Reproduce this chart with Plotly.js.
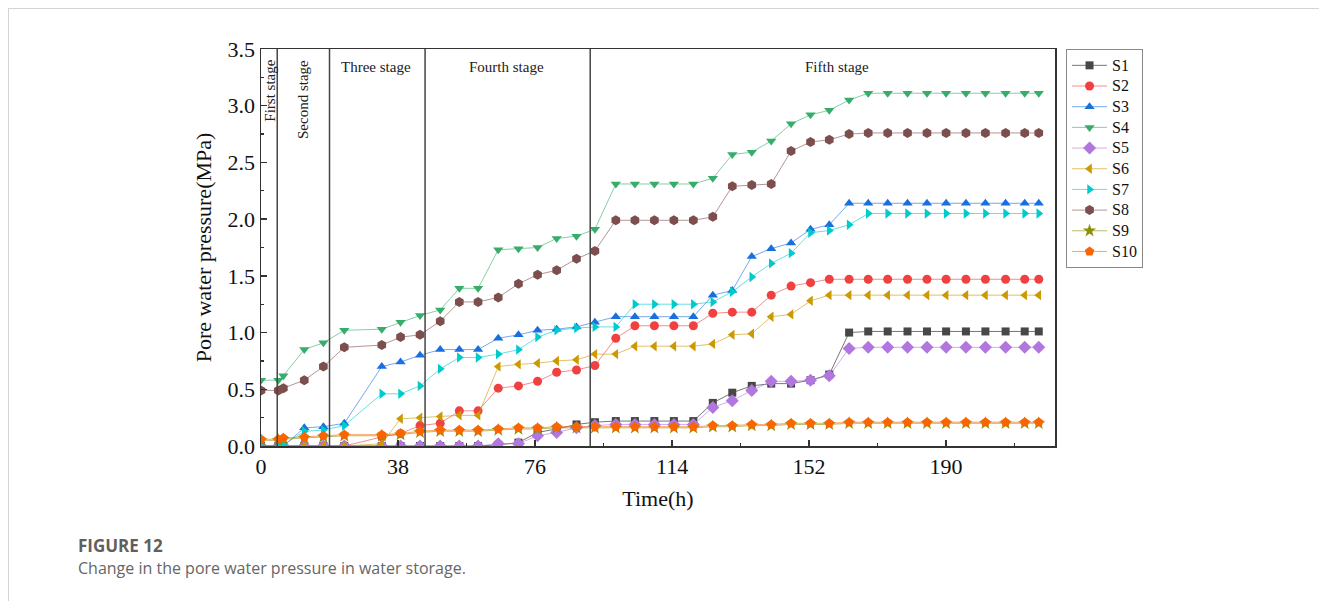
<!DOCTYPE html>
<html>
<head>
<meta charset="utf-8">
<script src="https://cdn.plot.ly/plotly-3.0.1.min.js"></script>
<style>
  html, body { margin: 0; padding: 0; background: #fff; }
  #wrap { position: relative; width: 1319px; height: 601px; overflow: hidden; }
  #chart { position: absolute; left: 0; top: 0; width: 1319px; height: 601px; }
  #frameTop { position: absolute; left: 8px; top: 8px; width: 1311px; height: 0; border-top: 1px solid #d4d4d4; pointer-events: none; }
  #frameLeft { position: absolute; left: 8px; top: 8px; width: 0; height: 593px; border-left: 1px solid #d4d4d4; pointer-events: none; }
</style>
</head>
<body>
<div id="wrap">
  <div id="chart"></div>
  <div id="frameTop"></div>
  <div id="frameLeft"></div>
</div>
<script>
// ---- data ----
const timeH = [0, 4.8, 6.2, 12, 17.3, 23.1, 33.5, 38.7, 44.1, 49.7, 55, 60.2, 65.8, 71.4, 76.7, 82, 87.5, 92.6, 98.4, 103.7, 109.1, 114.5, 119.9, 125.3, 130.7, 136.1, 141.5, 147, 152.4, 157.6, 163.1, 168.4, 173.8, 179.3, 184.7, 190, 195.5, 200.9, 206.5, 211.8, 215.7];

const S1 = [0, 0, 0, 0, 0, 0, 0, 0, 0, 0, 0, 0, 0.01, 0.03, 0.12, 0.15, 0.19, 0.21, 0.22, 0.22, 0.22, 0.22, 0.22, 0.38, 0.47, 0.53, 0.55, 0.55, 0.58, 0.63, 1.00, 1.01, 1.01, 1.01, 1.01, 1.01, 1.01, 1.01, 1.01, 1.01, 1.01];
const S2 = [0, 0, 0, 0, 0, 0, 0.08, 0.11, 0.18, 0.20, 0.31, 0.31, 0.51, 0.53, 0.57, 0.65, 0.67, 0.71, 0.95, 1.06, 1.06, 1.06, 1.06, 1.17, 1.18, 1.18, 1.33, 1.41, 1.44, 1.47, 1.47, 1.47, 1.47, 1.47, 1.47, 1.47, 1.47, 1.47, 1.47, 1.47, 1.47];
const S3 = [0, 0, 0, 0.16, 0.17, 0.20, 0.70, 0.74, 0.80, 0.85, 0.85, 0.85, 0.95, 0.98, 1.02, 1.03, 1.05, 1.09, 1.14, 1.14, 1.14, 1.14, 1.14, 1.33, 1.37, 1.67, 1.74, 1.79, 1.91, 1.95, 2.14, 2.14, 2.14, 2.14, 2.14, 2.14, 2.14, 2.14, 2.14, 2.14, 2.14];
const S4 = [0.58, 0.58, 0.62, 0.85, 0.91, 1.02, 1.03, 1.09, 1.15, 1.20, 1.39, 1.39, 1.73, 1.74, 1.75, 1.83, 1.85, 1.91, 2.31, 2.31, 2.31, 2.31, 2.31, 2.36, 2.57, 2.59, 2.69, 2.84, 2.92, 2.96, 3.05, 3.11, 3.11, 3.11, 3.11, 3.11, 3.11, 3.11, 3.11, 3.11, 3.11];
const S5 = [0, 0, 0, 0, 0, 0, 0, 0, 0, 0, 0, 0, 0.02, 0.02, 0.09, 0.12, 0.16, 0.18, 0.19, 0.19, 0.19, 0.19, 0.19, 0.34, 0.40, 0.49, 0.57, 0.57, 0.58, 0.62, 0.86, 0.87, 0.87, 0.87, 0.87, 0.87, 0.87, 0.87, 0.87, 0.87, 0.87];
const S6 = [0, 0, 0, 0, 0, 0, 0.02, 0.24, 0.25, 0.26, 0.27, 0.27, 0.70, 0.72, 0.73, 0.75, 0.76, 0.81, 0.81, 0.88, 0.88, 0.88, 0.88, 0.90, 0.98, 0.99, 1.14, 1.16, 1.28, 1.33, 1.33, 1.33, 1.33, 1.33, 1.33, 1.33, 1.33, 1.33, 1.33, 1.33, 1.33];
const S7 = [0, 0, 0.01, 0.13, 0.14, 0.18, 0.46, 0.46, 0.53, 0.68, 0.78, 0.78, 0.81, 0.85, 0.96, 1.02, 1.04, 1.05, 1.05, 1.25, 1.25, 1.25, 1.25, 1.27, 1.36, 1.49, 1.61, 1.70, 1.88, 1.90, 1.95, 2.05, 2.05, 2.05, 2.05, 2.05, 2.05, 2.05, 2.05, 2.05, 2.05];
const S8 = [0.49, 0.49, 0.51, 0.58, 0.70, 0.87, 0.89, 0.96, 0.98, 1.10, 1.27, 1.27, 1.31, 1.43, 1.51, 1.55, 1.65, 1.72, 1.99, 1.99, 1.99, 1.99, 1.99, 2.02, 2.29, 2.30, 2.31, 2.60, 2.68, 2.70, 2.75, 2.76, 2.76, 2.76, 2.76, 2.76, 2.76, 2.76, 2.76, 2.76, 2.76];
const S9 = [0.05, 0.05, 0.06, 0.07, 0.08, 0.09, 0.09, 0.10, 0.12, 0.13, 0.13, 0.13, 0.14, 0.15, 0.15, 0.16, 0.16, 0.16, 0.16, 0.16, 0.16, 0.16, 0.16, 0.17, 0.17, 0.18, 0.18, 0.19, 0.19, 0.19, 0.20, 0.20, 0.20, 0.20, 0.20, 0.20, 0.20, 0.20, 0.20, 0.20, 0.20];
const S10 = [0.06, 0.06, 0.07, 0.08, 0.09, 0.10, 0.10, 0.11, 0.13, 0.14, 0.14, 0.14, 0.15, 0.16, 0.16, 0.17, 0.17, 0.17, 0.17, 0.17, 0.17, 0.17, 0.17, 0.18, 0.18, 0.19, 0.19, 0.20, 0.20, 0.20, 0.21, 0.21, 0.21, 0.21, 0.21, 0.21, 0.21, 0.21, 0.21, 0.21, 0.21];

const seriesNames = ["S1", "S2", "S3", "S4", "S5", "S6", "S7", "S8", "S9", "S10"];
const seriesValues = [S1, S2, S3, S4, S5, S6, S7, S8, S9, S10];

const stageBounds = [4.5, 19, 45.5, 91.3];
const xTickStep = 38;
const yTickStep = 0.5;

// ---- styles ----
const colors = ["#474747", "#f14040", "#1a6fdf", "#37ad6b", "#b177de", "#cc9900", "#00cbcc", "#7d4e4e", "#8e8e00", "#fb6501"];
const lineColors = ["rgba(71,71,71,0.75)", "rgba(241,64,64,0.6)", "rgba(26,111,223,0.6)", "rgba(55,173,107,0.6)", "rgba(177,119,222,0.6)", "rgba(204,153,0,0.6)", "rgba(0,203,204,0.6)", "rgba(125,78,78,0.6)", "rgba(142,142,0,0.6)", "rgba(251,101,1,0.6)"];
const symbols = ["square", "circle", "triangle-up", "triangle-down", "diamond", "triangle-left", "triangle-right", "hexagon", "star", "pentagon"];
const sizes = [8, 9, 9, 9, 10, 9, 9, 10, 10, 10];

const serif = "Liberation Serif, Times New Roman, serif";

const traces = seriesNames.map((name, i) => ({
  type: "scatter",
  mode: "lines+markers",
  name: '<span style="font-size:16px">' + name + '</span>',
  x: timeH,
  y: seriesValues[i],
  line: { color: lineColors[i], width: 1 },
  marker: { symbol: symbols[i], size: sizes[i], color: colors[i], line: { width: 0 } }
}));

const shapes = stageBounds.map(b => ({
  type: "line", xref: "x", yref: "paper",
  x0: b, x1: b, y0: 0, y1: 1,
  line: { color: "#444", width: 1.5 }
}));

const annotations = [
  { text: "First stage", x: 2.5, y: 0.895, textangle: -90 },
  { text: "Second stage", x: 11.7, y: 0.872, textangle: -90 },
  { text: "Three stage", x: 31.8, y: 0.954, textangle: 0 },
  { text: "Fourth stage", x: 68.0, y: 0.954, textangle: 0 },
  { text: "Fifth stage", x: 159.7, y: 0.954, textangle: 0 }
].map(a => ({
  text: a.text, x: a.x, y: a.y, xref: "x", yref: "paper",
  textangle: a.textangle, showarrow: false,
  xanchor: "center", yanchor: "middle",
  font: { family: serif, size: 15, color: "#222" }
}));

annotations.push({
  text: "<b>FIGURE 12</b>", xref: "paper", yref: "paper",
  x: -0.233, y: -0.25, xanchor: "left", yanchor: "middle", showarrow: false,
  font: { family: "Open Sans, Noto Sans, sans-serif", size: 17, color: "#5f5f5f" }
});
annotations.push({
  text: "Change in the pore water pressure in water storage.", xref: "paper", yref: "paper",
  x: -0.233, y: -0.308, xanchor: "left", yanchor: "middle", showarrow: false,
  font: { family: "Open Sans, Noto Sans, sans-serif", size: 16, color: "#666" }
});

const axisCommon = {
  showgrid: false, zeroline: false,
  showline: true, linecolor: "#333", linewidth: 1.5, mirror: true,
  ticks: "inside", ticklen: 6, tickwidth: 1.3, tickcolor: "#333",
  tickfont: { family: serif, size: 22, color: "#111" }
};

const layout = {
  width: 1319, height: 601, autosize: false,
  margin: { l: 261, r: 264, t: 49, b: 155, pad: 0 },
  paper_bgcolor: "#fff", plot_bgcolor: "#fff",
  showlegend: true,
  legend: {
    x: 1.0139, y: 1, xanchor: "left", yanchor: "top",
    bordercolor: "#888", borderwidth: 1, bgcolor: "#fff",
    font: { family: serif, size: 13.6, color: "#111" },
    tracegroupgap: 0, itemwidth: 35
  },
  xaxis: Object.assign({}, axisCommon, {
    range: [0, 220.2], tick0: 0, dtick: xTickStep,
    minor: { dtick: xTickStep / 2, tick0: 0, ticks: "inside", ticklen: 3, tickcolor: "#333", showgrid: false },
    title: { text: "Time(h)", font: { family: serif, size: 22, color: "#111" }, standoff: 12 }
  }),
  yaxis: Object.assign({}, axisCommon, {
    range: [0, 3.5], tick0: 0, dtick: yTickStep, tickformat: ".1f",
    minor: { dtick: yTickStep / 2, tick0: 0, ticks: "inside", ticklen: 3, tickcolor: "#333", showgrid: false },
    title: { text: "Pore water pressure(MPa)", font: { family: serif, size: 22, color: "#111" }, standoff: 10 }
  }),
  shapes: shapes,
  annotations: annotations
};

Plotly.newPlot("chart", traces, layout, { displayModeBar: false, staticPlot: true });
</script>
</body>
</html>
